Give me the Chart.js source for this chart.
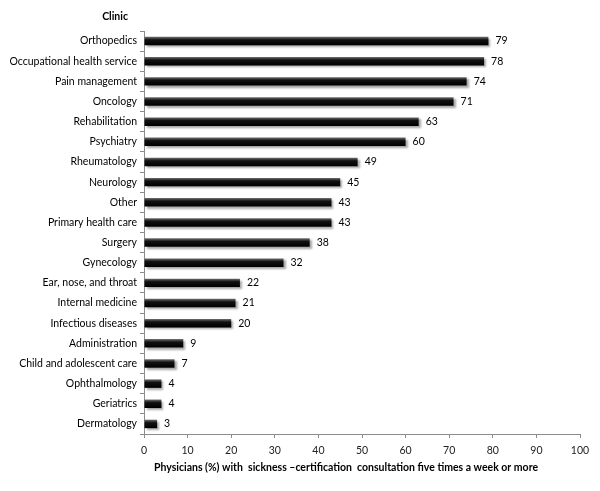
<!DOCTYPE html>
<html>
<head>
<meta charset="utf-8">
<script src="https://cdn.jsdelivr.net/npm/chart.js@4"></script>
<style>
  html, body { margin: 0; padding: 0; background: #fff; }
  #wrap { width: 600px; height: 491px; }
</style>
</head>
<body>
<div id="wrap"><canvas id="myChart" width="600" height="491"></canvas></div>
<script>
// --- data ---
const clinics = [
    'Orthopedics', 'Occupational health service', 'Pain management', 'Oncology',
    'Rehabilitation', 'Psychiatry', 'Rheumatology', 'Neurology', 'Other',
    'Primary health care', 'Surgery', 'Gynecology', 'Ear, nose, and throat',
    'Internal medicine', 'Infectious diseases', 'Administration',
    'Child and adolescent care', 'Ophthalmology', 'Geriatrics', 'Dermatology'
];
const percentages = [79, 78, 74, 71, 63, 60, 49, 45, 43, 43, 38, 32, 22, 21, 20, 9, 7, 4, 4, 3];
const xTicks = [0, 10, 20, 30, 40, 50, 60, 70, 80, 90, 100];

const yTitle = 'Clinic';
const xTitle = 'Physicians (%) with  sickness \u2013certification  consultation five times a week or more';

const FONT = 'Lato';
const SIZE = 10.5;

// shaded black bars, lighter on top edge
function barFill(context) {
    const chart = context.chart;
    const y = chart.scales.y;
    if (!chart.chartArea || !y || context.dataIndex === undefined) return '#000';
    const cy = y.getPixelForValue(context.dataIndex);
    const g = chart.ctx.createLinearGradient(0, cy - 4, 0, cy + 4);
    g.addColorStop(0, '#6a6a6a');
    g.addColorStop(0.35, '#111');
    g.addColorStop(1, '#000');
    return g;
}

// drop shadow under the bars
const shadowPlugin = {
    id: 'shadow',
    beforeDatasetsDraw(chart) {
        const ctx = chart.ctx;
        ctx.save();
        ctx.shadowColor = 'rgba(0,0,0,0.35)';
        ctx.shadowOffsetX = 2;
        ctx.shadowOffsetY = 2;
        ctx.shadowBlur = 2;
    },
    afterDatasetsDraw(chart) {
        chart.ctx.restore();
    }
};

// value labels + the two titles
const labelPlugin = {
    id: 'labels',
    afterDraw(chart) {
        const ctx = chart.ctx;
        const meta = chart.getDatasetMeta(0);
        ctx.save();
        ctx.fillStyle = '#000';
        ctx.font = SIZE + 'px ' + FONT;
        ctx.textAlign = 'left';
        ctx.textBaseline = 'middle';
        meta.data.forEach((bar, i) => {
            ctx.fillText(String(percentages[i]), bar.x + 7, bar.y);
        });

        ctx.font = 'bold ' + SIZE + 'px ' + FONT;
        ctx.textAlign = 'right';
        ctx.fillText(yTitle, chart.chartArea.left - 16, chart.chartArea.top - 14);

        ctx.textAlign = 'center';
        ctx.fillText(xTitle, chart.chartArea.left + 202, 468);
        ctx.restore();
    }
};

const ctx = document.getElementById('myChart');
new Chart(ctx, {
    type: 'bar',
    data: {
        labels: clinics,
        datasets: [{
            data: percentages,
            backgroundColor: barFill,
            borderWidth: 0,
            categoryPercentage: 1,
            barPercentage: 0.42
        }]
    },
    options: {
        indexAxis: 'y',
        responsive: false,
        animation: false,
        layout: { padding: { top: 31, right: 20, left: 0, bottom: 0 } },
        scales: {
            x: {
                min: 0,
                max: 100,
                afterBuildTicks(scale) {
                    scale.ticks = xTicks.map(v => ({ value: v }));
                },
                afterFit(scale) { scale.height = 57; },
                border: { display: true, color: '#8c8c8c', width: 1 },
                grid: { display: true, drawOnChartArea: false, drawTicks: true, tickLength: 4, color: '#8c8c8c' },
                ticks: { color: '#222', padding: 6, font: { family: FONT, size: SIZE } }
            },
            y: {
                afterFit(scale) { scale.width = 144; },
                border: { display: true, color: '#8c8c8c', width: 1 },
                grid: { display: true, drawOnChartArea: false, drawTicks: true, tickLength: 4, color: '#8c8c8c', offset: true },
                ticks: { color: '#000', padding: 3, autoSkip: false, font: { family: FONT, size: SIZE } }
            }
        },
        plugins: {
            legend: { display: false },
            tooltip: { enabled: false }
        }
    },
    plugins: [shadowPlugin, labelPlugin]
});
</script>
</body>
</html>
